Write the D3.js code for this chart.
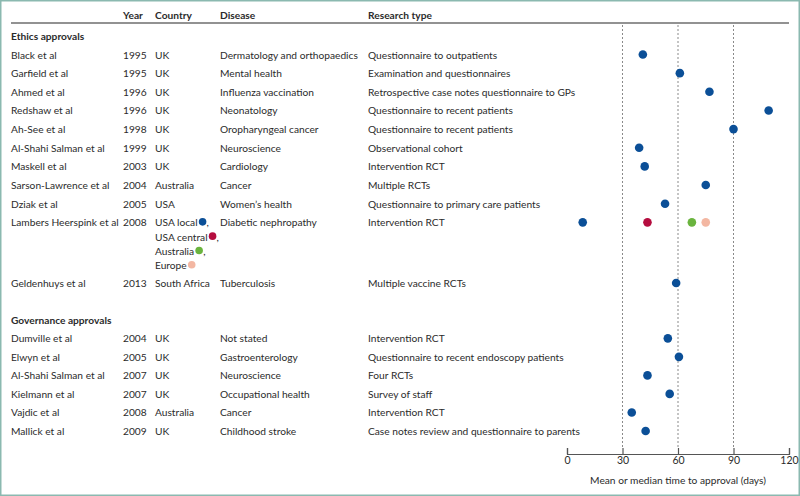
<!DOCTYPE html>
<html><head><meta charset="utf-8">
<script src="https://cdn.jsdelivr.net/npm/d3@7/dist/d3.min.js"></script>
<style>body{margin:0;background:#fff}svg{display:block}text{font-family:Lato,"Open Sans",sans-serif;fill:#2b2b2b}</style>
</head><body><svg id="c" width="800" height="496"></svg>
<script>
// ---- data ----
const headers = ["Year","Country","Disease","Research type"];
const ethicsNames = ["Black et al","Garfield et al","Ahmed et al","Redshaw et al","Ah-See et al","Al-Shahi Salman et al","Maskell et al","Sarson-Lawrence et al","Dziak et al","Lambers Heerspink et al","Geldenhuys et al"];
const ethicsYears = ["1995","1995","1996","1996","1998","1999","2003","2004","2005","2008","2013"];
const ethicsCountries = ["UK","UK","UK","UK","UK","UK","UK","Australia","USA","USA local","South Africa"];
const ethicsDiseases = ["Dermatology and orthopaedics","Mental health","Influenza vaccination","Neonatology","Oropharyngeal cancer","Neuroscience","Cardiology","Cancer","Women\u2019s health","Diabetic nephropathy","Tuberculosis"];
const ethicsTypes = ["Questionnaire to outpatients","Examination and questionnaires","Retrospective case notes questionnaire to GPs","Questionnaire to recent patients","Questionnaire to recent patients","Observational cohort","Intervention RCT","Multiple RCTs","Questionnaire to primary care patients","Intervention RCT","Multiple vaccine RCTs"];
const ethicsDays = [41,61,77,109,90,39,42,75,53,null,59];
const lambersRegions = ["USA local","USA central","Australia","Europe"];
const lambersDays = [8.5,43.5,67.5,75];
const govNames = ["Dumville et al","Elwyn et al","Al-Shahi Salman et al","Kielmann et al","Vajdic et al","Mallick et al"];
const govYears = ["2004","2005","2007","2007","2008","2009"];
const govCountries = ["UK","UK","UK","UK","Australia","UK"];
const govDiseases = ["Not stated","Gastroenterology","Neuroscience","Occupational health","Cancer","Childhood stroke"];
const govTypes = ["Intervention RCT","Questionnaire to recent endoscopy patients","Four RCTs","Survey of staff","Intervention RCT","Case notes review and questionnaire to parents"];
const govDays = [54.5,60.5,43.5,55.5,35,42.5];
const xTicks = [0,30,60,90,120];
const regionColors = ["#0b4f97","#b50d3f","#6ab43e","#f3b7a2"];

// ---- layout ----
const svg = d3.select("#c");
const W=800,H=496;
svg.append("rect").attr("x",0.75).attr("y",0.75).attr("width",W-1.5).attr("height",H-1.5)
  .attr("fill","none").attr("stroke","#8bb9b0").attr("stroke-width",1.5);

const x = d3.scaleLinear().domain([0,120]).range([567,789]);
// row units -> pixel
const y = d3.scaleLinear().domain([0,1]).range([54.5,54.5+18.65]);
const subStep = 14.3;
const col = {name:11, year:123, country:155, disease:220, type:368};
const fs = 10.2;

// header
const hy = y(-2.13);
[["Year",col.year],["Country",col.country],["Disease",col.disease],["Research type",col.type]].forEach(([t,cx])=>{
  svg.append("text").attr("x",cx).attr("y",hy).attr("dominant-baseline","central")
    .attr("font-size",fs).attr("font-weight",700).text(t);
});
svg.append("line").attr("x1",11).attr("x2",789).attr("y1",23).attr("y2",23)
  .attr("stroke","#6e6e6e").attr("stroke-width",1.3);

// grid lines
svg.append("g").selectAll("line").data([30,60,90]).join("line")
  .attr("x1",d=>x(d)).attr("x2",d=>x(d)).attr("y1",25).attr("y2",448)
  .attr("stroke","#8a8a8a").attr("stroke-width",1).attr("stroke-dasharray","2,2");

function section(title, titleUnit, names, years, countries, diseases, types, days, unitOf){
  svg.append("text").attr("x",col.name).attr("y",y(titleUnit)).attr("dominant-baseline","central")
    .attr("font-size",fs).attr("font-weight",700).text(title);
  names.forEach((n,i)=>{
    const yy = y(unitOf(i));
    const g = svg.append("g");
    const row=[[n,col.name],[years[i],col.year],[diseases[i],col.disease],[types[i],col.type]];
    row.forEach(([t,cx])=>g.append("text").attr("x",cx).attr("y",yy).attr("dominant-baseline","central").attr("font-size",fs).text(t));
    if(days[i]!==null){
      g.append("text").attr("x",col.country).attr("y",yy).attr("dominant-baseline","central").attr("font-size",fs).text(countries[i]);
      g.append("circle").attr("cx",x(days[i])).attr("cy",yy).attr("r",4.3).attr("fill",regionColors[0]);
    } else {
      lambersRegions.forEach((r,k)=>{
        const ly = yy + k*subStep;
        const t = g.append("text").attr("x",col.country).attr("y",ly).attr("dominant-baseline","central").attr("font-size",fs).text(r);
        const w = t.node().getComputedTextLength();
        g.append("circle").attr("cx",col.country+w+5).attr("cy",ly-0.5).attr("r",3.8).attr("fill",regionColors[k]);
        if(k<lambersRegions.length-1)
          g.append("text").attr("x",col.country+w+9).attr("y",ly).attr("dominant-baseline","central").attr("font-size",fs).text(",");
        g.append("circle").attr("cx",x(lambersDays[k])).attr("cy",yy).attr("r",4.3).attr("fill",regionColors[k]);
      });
    }
  });
}
section("Ethics approvals",-0.99,ethicsNames,ethicsYears,ethicsCountries,ethicsDiseases,ethicsTypes,ethicsDays,
  i=> i<=9 ? i : 12.25);
section("Governance approvals",14.24,govNames,govYears,govCountries,govDiseases,govTypes,govDays,i=>15.22+i*0.993);

// axis
const ax = svg.append("g").attr("transform","translate(0,454)")
  .call(d3.axisBottom(x).tickValues(xTicks).tickSizeInner(-6).tickSizeOuter(-6).tickPadding(3));
ax.select(".domain").attr("stroke","#555").attr("stroke-width",1.2);
ax.selectAll(".tick line").attr("stroke","#555").attr("stroke-width",1.2);
ax.selectAll(".tick text").attr("font-size",10.5).attr("font-family","Lato,sans-serif").style("fill","#2b2b2b");
svg.append("text").attr("x",(x(0)+x(120))/2).attr("y",480).attr("text-anchor","middle").attr("dominant-baseline","central")
  .attr("font-size",fs).text("Mean or median time to approval (days)");
</script></body></html>
